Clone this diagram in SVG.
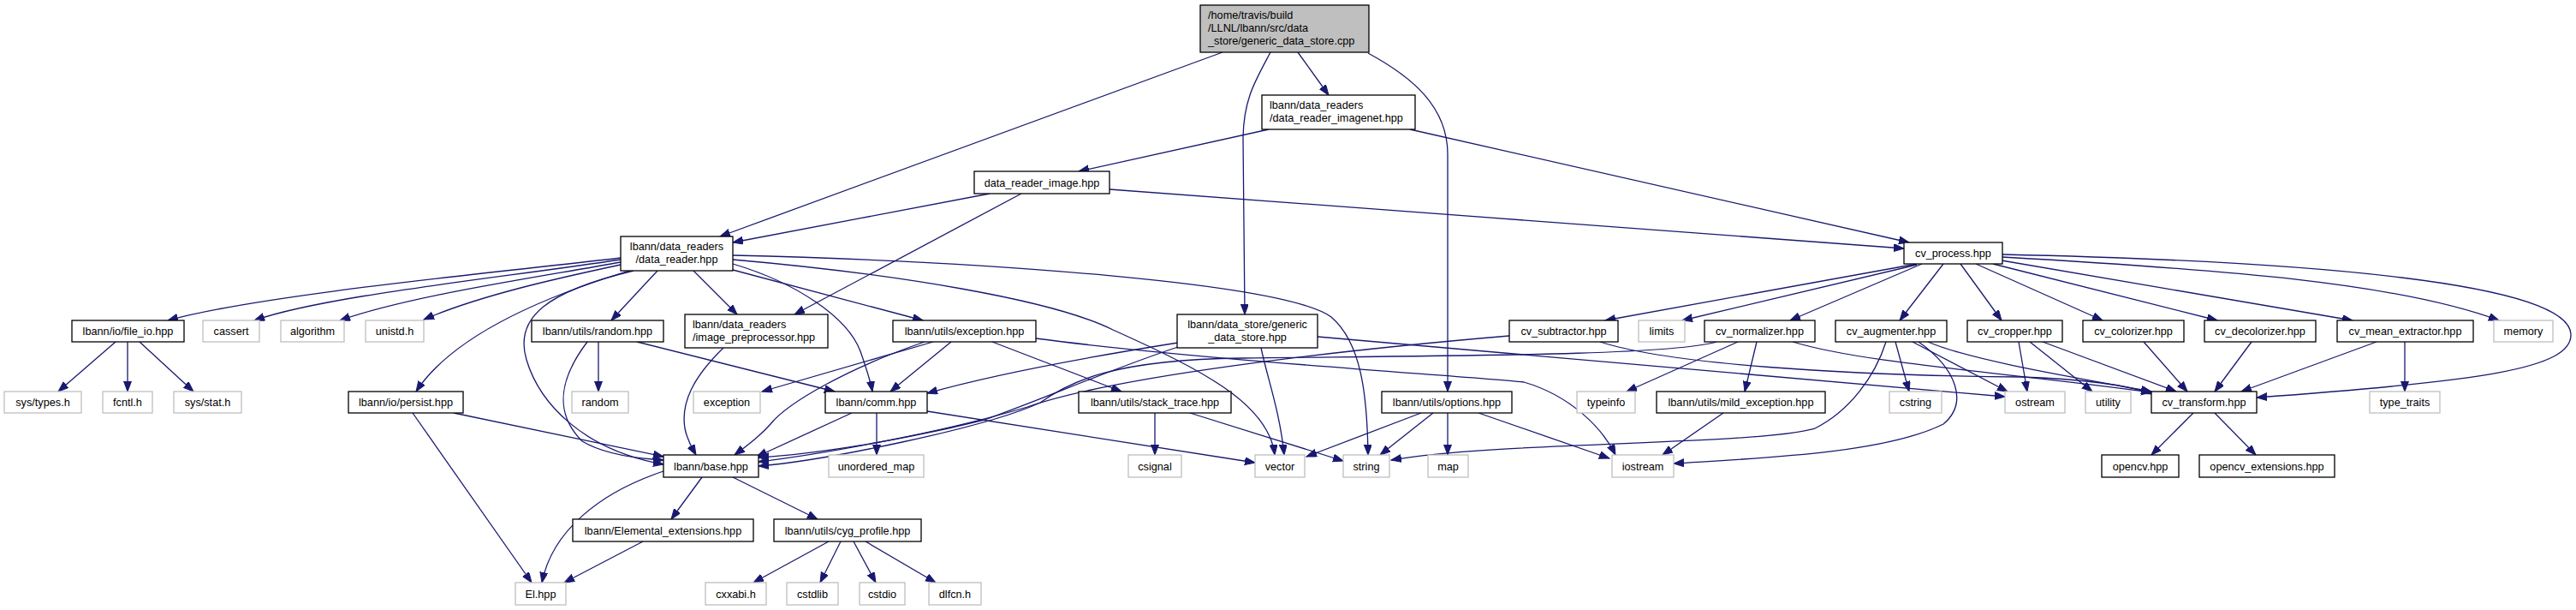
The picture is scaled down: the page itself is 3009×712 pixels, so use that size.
<svg xmlns="http://www.w3.org/2000/svg" width="3009" height="712" viewBox="0 0 3009 712">
<style>
.n rect{fill:#fff;stroke:#000;stroke-width:1.3}
.x rect{fill:#fff;stroke:#bfbfbf;stroke-width:1.3}
.r rect{fill:#bfbfbf;stroke:#000;stroke-width:1.3}
text{font-family:"Liberation Sans",Arial,sans-serif;font-size:12.7px;fill:#000;text-anchor:middle}
text.l{text-anchor:start}
#edges path{fill:none;stroke:#191970;stroke-width:1.3;marker-end:url(#a)}
</style>
<defs>
<marker id="a" markerUnits="userSpaceOnUse" markerWidth="13" markerHeight="10" refX="12" refY="4.5" orient="auto">
<path d="M0,0 L12,4.5 L0,9 z" fill="#191970" stroke="#191970" stroke-width="1"/>
</marker>
</defs>
<rect width="3009" height="712" fill="#fff"/>
<g id="edges">
<path d="M1428,61 L841,276"/>
<path d="M1484,61 C1466,95 1453,115 1452,160 L1454,367"/>
<path d="M1516,61 L1552,111"/>
<path d="M1598,62 C1650,90 1691,125 1691,180 L1691,457"/>
<path d="M1482,151 L1260,200"/>
<path d="M1647,151 L2230,283"/>
<path d="M1156,226 L856,283"/>
<path d="M1193,226 L928,367"/>
<path d="M1296,221 L2224,290"/>
<path d="M725,301 C560,320 300,345 196,374"/>
<path d="M725,303 C580,325 380,345 297,374"/>
<path d="M725,306 C620,325 480,345 397,374"/>
<path d="M725,309 C650,325 560,345 495,373"/>
<path d="M735,316 C640,345 530,390 486,457"/>
<path d="M740,316 C640,340 600,370 615,420 C630,470 680,525 775,542"/>
<path d="M768,316 L714,374"/>
<path d="M810,316 L861,367"/>
<path d="M856,308 C930,330 990,370 1005,410 C1012,430 1017,445 1019,457"/>
<path d="M856,315 L1078,374"/>
<path d="M856,303 C1050,320 1230,350 1300,385 C1400,430 1482,470 1489,531"/>
<path d="M856,298 C1150,305 1500,330 1555,370 C1590,400 1597,460 1598,531"/>
<path d="M135,399 L68,457"/>
<path d="M149,399 L149,457"/>
<path d="M163,399 L226,457"/>
<path d="M482,482 L621,680"/>
<path d="M530,482 L775,533"/>
<path d="M699,399 L699,457"/>
<path d="M686,399 C655,440 645,480 680,515 C705,530 740,535 775,537"/>
<path d="M744,399 L975,457"/>
<path d="M845,406 C810,440 795,470 800,500 C803,515 808,522 813,531"/>
<path d="M1090,399 L890,457"/>
<path d="M1111,399 L1040,457"/>
<path d="M1080,399 C990,430 920,470 900,495 C885,512 870,522 858,531"/>
<path d="M1159,399 L1310,457"/>
<path d="M1210,395 C1400,420 1700,438 1780,446 C1835,462 1872,500 1887,531"/>
<path d="M995,482 L884,533"/>
<path d="M1024,482 L1024,531"/>
<path d="M1083,480 L1466,540"/>
<path d="M1349,482 L1349,531"/>
<path d="M1390,482 L1569,538"/>
<path d="M1376,400 C1250,420 1150,440 1083,459"/>
<path d="M1376,405 C1300,430 1220,465 1150,490 C1050,515 950,530 886,534"/>
<path d="M1473,406 C1480,440 1495,480 1500,531"/>
<path d="M1539,393 L2342,463"/>
<path d="M1763,392 C1550,410 1300,440 1200,475 C1100,505 960,530 886,539"/>
<path d="M2005,399 C1950,415 1700,415 1450,418 C1300,420 1250,445 1215,470 C1150,500 960,538 886,544"/>
<path d="M2030,399 L1900,457"/>
<path d="M2052,399 L2038,457"/>
<path d="M2094,399 C2180,425 2350,435 2513,458"/>
<path d="M1869,399 C1950,425 2150,438 2360,440 C2430,442 2490,450 2513,460"/>
<path d="M2214,399 L2230,457"/>
<path d="M2234,399 L2345,457"/>
<path d="M2252,399 C2300,420 2420,440 2513,457"/>
<path d="M2203,399 C2190,440 2160,480 2120,500 C2050,520 1750,515 1625,537"/>
<path d="M2241,399 C2285,430 2300,470 2270,495 C2200,530 2050,535 1955,541"/>
<path d="M2358,399 L2368,457"/>
<path d="M2371,399 L2444,457"/>
<path d="M2386,399 L2542,457"/>
<path d="M2504,399 L2555,457"/>
<path d="M2630,399 L2587,457"/>
<path d="M2776,399 L2618,457"/>
<path d="M2809,399 L2809,457"/>
<path d="M2239,308 L1875,374"/>
<path d="M2239,309 L1965,374"/>
<path d="M2245,308 L2091,374"/>
<path d="M2270,308 L2219,374"/>
<path d="M2290,308 L2338,374"/>
<path d="M2308,308 L2456,374"/>
<path d="M2328,308 L2590,374"/>
<path d="M2338,304 L2748,374"/>
<path d="M2339,300 C2600,315 2800,330 2919,374"/>
<path d="M2339,297 C2700,305 3000,330 3003,390 C3005,430 2900,445 2636,464"/>
<path d="M1660,482 L1526,533"/>
<path d="M1674,482 L1612,531"/>
<path d="M1691,482 L1691,531"/>
<path d="M1727,482 L1880,535"/>
<path d="M2013,482 L1942,531"/>
<path d="M775,550 C700,575 645,620 633,680"/>
<path d="M820,557 L784,606"/>
<path d="M856,557 L955,606"/>
<path d="M751,632 L659,680"/>
<path d="M968,632 L880,680"/>
<path d="M982,632 L958,680"/>
<path d="M997,632 L1023,680"/>
<path d="M1011,632 L1093,680"/>
<path d="M2562,482 L2513,531"/>
<path d="M2587,482 L2635,531"/>
</g>
<g id="root" class="r"><rect x="1402" y="6" width="197" height="55"/><text class="l" x="1411" y="21.5">/home/travis/build</text><text class="l" x="1411" y="36.5">/LLNL/lbann/src/data</text><text class="l" x="1411" y="51.5">_store/generic_data_store.cpp</text></g>
<g id="imagenet" class="n"><rect x="1474" y="111" width="179" height="40"/><text class="l" x="1483" y="126.5">lbann/data_readers</text><text class="l" x="1483" y="141.5">/data_reader_imagenet.hpp</text></g>
<g id="data_reader_image" class="n"><rect x="1138" y="200" width="158" height="26"/><text x="1217" y="217.5">data_reader_image.hpp</text></g>
<g id="data_reader" class="n"><rect x="725" y="276" width="131" height="40"/><text x="790.5" y="291.5">lbann/data_readers</text><text x="790.5" y="306.5">/data_reader.hpp</text></g>
<g id="cv_process" class="n"><rect x="2224" y="283" width="115" height="25"/><text x="2281.5" y="300">cv_process.hpp</text></g>
<g id="file_io" class="n"><rect x="84" y="374" width="131" height="25"/><text x="149.5" y="391">lbann/io/file_io.hpp</text></g>
<g id="cassert" class="x"><rect x="237" y="374" width="66" height="25"/><text x="270" y="391">cassert</text></g>
<g id="algorithm" class="x"><rect x="328" y="374" width="74" height="25"/><text x="365" y="391">algorithm</text></g>
<g id="unistd" class="x"><rect x="427" y="374" width="68" height="25"/><text x="461" y="391">unistd.h</text></g>
<g id="random_hpp" class="n"><rect x="621" y="374" width="154" height="25"/><text x="698" y="391">lbann/utils/random.hpp</text></g>
<g id="image_preprocessor" class="n"><rect x="800" y="367" width="167" height="39"/><text class="l" x="809" y="382.5">lbann/data_readers</text><text class="l" x="809" y="397.5">/image_preprocessor.hpp</text></g>
<g id="exception_hpp" class="n"><rect x="1043" y="374" width="167" height="25"/><text x="1126.5" y="391">lbann/utils/exception.hpp</text></g>
<g id="generic_data_store" class="n"><rect x="1375" y="367" width="164" height="39"/><text x="1457" y="382.5">lbann/data_store/generic</text><text x="1457" y="397.5">_data_store.hpp</text></g>
<g id="cv_subtractor" class="n"><rect x="1763" y="374" width="127" height="25"/><text x="1826.5" y="391">cv_subtractor.hpp</text></g>
<g id="limits" class="x"><rect x="1914" y="374" width="54" height="25"/><text x="1941" y="391">limits</text></g>
<g id="cv_normalizer" class="n"><rect x="1991" y="374" width="129" height="25"/><text x="2055.5" y="391">cv_normalizer.hpp</text></g>
<g id="cv_augmenter" class="n"><rect x="2144" y="374" width="130" height="25"/><text x="2209" y="391">cv_augmenter.hpp</text></g>
<g id="cv_cropper" class="n"><rect x="2298" y="374" width="111" height="25"/><text x="2353.5" y="391">cv_cropper.hpp</text></g>
<g id="cv_colorizer" class="n"><rect x="2433" y="374" width="118" height="25"/><text x="2492" y="391">cv_colorizer.hpp</text></g>
<g id="cv_decolorizer" class="n"><rect x="2575" y="374" width="130" height="25"/><text x="2640" y="391">cv_decolorizer.hpp</text></g>
<g id="cv_mean_extractor" class="n"><rect x="2730" y="374" width="159" height="25"/><text x="2809.5" y="391">cv_mean_extractor.hpp</text></g>
<g id="memory" class="x"><rect x="2913" y="374" width="69" height="25"/><text x="2947.5" y="391">memory</text></g>
<g id="sys_types" class="x"><rect x="5" y="457" width="90" height="25"/><text x="50" y="474">sys/types.h</text></g>
<g id="fcntl" class="x"><rect x="120" y="457" width="58" height="25"/><text x="149" y="474">fcntl.h</text></g>
<g id="sys_stat" class="x"><rect x="203" y="457" width="79" height="25"/><text x="242.5" y="474">sys/stat.h</text></g>
<g id="persist" class="n"><rect x="407" y="457" width="134" height="25"/><text x="474" y="474">lbann/io/persist.hpp</text></g>
<g id="random" class="x"><rect x="668" y="457" width="66" height="25"/><text x="701" y="474">random</text></g>
<g id="exception" class="x"><rect x="810" y="457" width="78" height="25"/><text x="849" y="474">exception</text></g>
<g id="comm" class="n"><rect x="964" y="457" width="119" height="25"/><text x="1023.5" y="474">lbann/comm.hpp</text></g>
<g id="stack_trace" class="n"><rect x="1260" y="457" width="178" height="25"/><text x="1349" y="474">lbann/utils/stack_trace.hpp</text></g>
<g id="options" class="n"><rect x="1614" y="457" width="152" height="25"/><text x="1690" y="474">lbann/utils/options.hpp</text></g>
<g id="typeinfo" class="x"><rect x="1842" y="457" width="68" height="25"/><text x="1876" y="474">typeinfo</text></g>
<g id="mild_exception" class="n"><rect x="1935" y="457" width="197" height="25"/><text x="2033.5" y="474">lbann/utils/mild_exception.hpp</text></g>
<g id="cstring" class="x"><rect x="2207" y="457" width="61" height="25"/><text x="2237.5" y="474">cstring</text></g>
<g id="ostream" class="x"><rect x="2342" y="457" width="70" height="25"/><text x="2377" y="474">ostream</text></g>
<g id="utility" class="x"><rect x="2436" y="457" width="53" height="25"/><text x="2462.5" y="474">utility</text></g>
<g id="cv_transform" class="n"><rect x="2513" y="457" width="123" height="25"/><text x="2574.5" y="474">cv_transform.hpp</text></g>
<g id="type_traits" class="x"><rect x="2768" y="457" width="82" height="25"/><text x="2809" y="474">type_traits</text></g>
<g id="base" class="n"><rect x="775" y="531" width="111" height="26"/><text x="830.5" y="548.5">lbann/base.hpp</text></g>
<g id="unordered_map" class="x"><rect x="968" y="531" width="111" height="26"/><text x="1023.5" y="548.5">unordered_map</text></g>
<g id="csignal" class="x"><rect x="1318" y="531" width="62" height="26"/><text x="1349" y="548.5">csignal</text></g>
<g id="vector" class="x"><rect x="1466" y="531" width="58" height="26"/><text x="1495" y="548.5">vector</text></g>
<g id="string" class="x"><rect x="1569" y="531" width="54" height="26"/><text x="1596" y="548.5">string</text></g>
<g id="map" class="x"><rect x="1668" y="531" width="47" height="26"/><text x="1691.5" y="548.5">map</text></g>
<g id="iostream" class="x"><rect x="1883" y="531" width="72" height="26"/><text x="1919" y="548.5">iostream</text></g>
<g id="opencv" class="n"><rect x="2455" y="531" width="90" height="26"/><text x="2500" y="548.5">opencv.hpp</text></g>
<g id="opencv_extensions" class="n"><rect x="2569" y="531" width="158" height="26"/><text x="2648" y="548.5">opencv_extensions.hpp</text></g>
<g id="elemental_extensions" class="n"><rect x="669" y="606" width="211" height="26"/><text x="774.5" y="623.5">lbann/Elemental_extensions.hpp</text></g>
<g id="cyg_profile" class="n"><rect x="904" y="606" width="172" height="26"/><text x="990" y="623.5">lbann/utils/cyg_profile.hpp</text></g>
<g id="El" class="x"><rect x="602" y="680" width="59" height="26"/><text x="631.5" y="697.5">El.hpp</text></g>
<g id="cxxabi" class="x"><rect x="824" y="680" width="71" height="26"/><text x="859.5" y="697.5">cxxabi.h</text></g>
<g id="cstdlib" class="x"><rect x="919" y="680" width="60" height="26"/><text x="949" y="697.5">cstdlib</text></g>
<g id="cstdio" class="x"><rect x="1004" y="680" width="53" height="26"/><text x="1030.5" y="697.5">cstdio</text></g>
<g id="dlfcn" class="x"><rect x="1085" y="680" width="61" height="26"/><text x="1115.5" y="697.5">dlfcn.h</text></g>
</svg>
